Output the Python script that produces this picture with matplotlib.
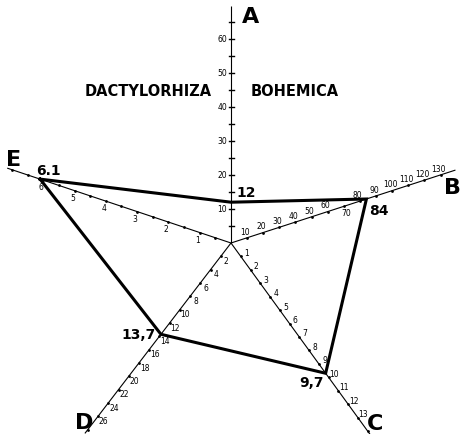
import numpy as np
import matplotlib.pyplot as plt

# five axes, one measured value each
axis_names = ['A', 'B', 'C', 'D', 'E']
values = [12, 84, 9.7, 13.7, 6.1]
value_labels = ['12', '84', '9,7', '13,7', '6.1']

# tick marks and tick labels per axis
tick_step = [5, 10, 1, 2, 0.5]
label_ticks = [
    [10, 20, 30, 40, 50, 60],
    [10, 20, 30, 40, 50, 60, 70, 80, 90, 100, 110, 120, 130],
    [1, 2, 3, 4, 5, 6, 7, 8, 9, 10, 11, 12, 13],
    [2, 4, 6, 8, 10, 12, 14, 16, 18, 20, 22, 24, 26],
    [1, 2, 3, 4, 5, 6],
]

# drawing geometry (pixel space)
cx, cy = 231, 244
angles = [90, 18, -54, 232.5, 161.5]
px_per_unit = [3.4, 1.695, 16.6, 8.4, 33.0]
axis_len = [237, 236, 240, 240, 236]
label_side = [1, -1, -1, -1, -1]   # which side of the axis tick labels sit on


def point(i, v):
    a = np.deg2rad(angles[i])
    r = v * px_per_unit[i]
    return cx + r * np.cos(a), cy - r * np.sin(a)


fig = plt.figure(figsize=(4.61, 4.35), dpi=100)
ax = fig.add_axes([0, 0, 1, 1])
ax.set_xlim(0, 461)
ax.set_ylim(435, 0)
ax.axis('off')

for i in range(5):
    a = np.deg2rad(angles[i])
    ux, uy = np.cos(a), -np.sin(a)
    nx, ny = -uy, ux   # normal to the axis
    ex, ey = cx + axis_len[i] * ux, cy + axis_len[i] * uy
    ax.plot([cx, ex], [cy, ey], color='black', lw=0.8, solid_capstyle='butt')

    vmax = axis_len[i] / px_per_unit[i]
    tks = np.arange(tick_step[i], vmax - 0.2 * tick_step[i], tick_step[i])
    for t in tks:
        x, y = point(i, t)
        if i == 0:
            ax.plot([x - 2.5, x + 2.5], [y, y], color='black', lw=1.0)
        else:
            ax.plot(x, y, 'o', color='black', ms=2.0, mec='none')

    s = label_side[i]
    for t in label_ticks[i]:
        x, y = point(i, t)
        side = s
        if i == 1 and t == 70:
            side = -s
        if i == 0:
            ax.text(x - 4, y, str(t), fontsize=5.5, ha='right', va='center')
        else:
            off = 7
            ax.text(x + side * nx * off, y + side * ny * off, str(t),
                    fontsize=5.5, ha='center', va='center')

# the polygon joining the values
pts = [point(i, v) for i, v in enumerate(values)]
order = [4, 0, 1, 2, 3, 4]
ax.plot([pts[k][0] for k in order], [pts[k][1] for k in order],
        color='black', lw=2.2, solid_joinstyle='miter')

# value labels
bold = dict(fontweight='bold', color='black')
ax.text(pts[0][0] + 5, pts[0][1] - 10, value_labels[0], fontsize=10,
        ha='left', va='center', **bold)
ax.text(pts[1][0] + 3, pts[1][1] + 11, value_labels[1], fontsize=10,
        ha='left', va='center', **bold)
ax.text(pts[2][0] - 14, pts[2][1] + 9, value_labels[2], fontsize=10,
        ha='center', va='center', **bold)
ax.text(pts[3][0] - 5, pts[3][1], value_labels[3], fontsize=10,
        ha='right', va='center', **bold)
ax.text(pts[4][0] + 8, pts[4][1] - 9, value_labels[4], fontsize=10,
        ha='center', va='center', **bold)

# axis letters
letter_pos = [(251, 17), (452, 188), (375, 424), (84, 423), (14, 160)]
for name, (x, y) in zip(axis_names, letter_pos):
    ax.text(x, y, name, fontsize=16, ha='center', va='center', **bold)

ax.text(148, 92, 'DACTYLORHIZA', fontsize=10.5, ha='center', va='center', **bold)
ax.text(295, 92, 'BOHEMICA', fontsize=10.5, ha='center', va='center', **bold)

fig.savefig('out.png', dpi=100, facecolor='white')
